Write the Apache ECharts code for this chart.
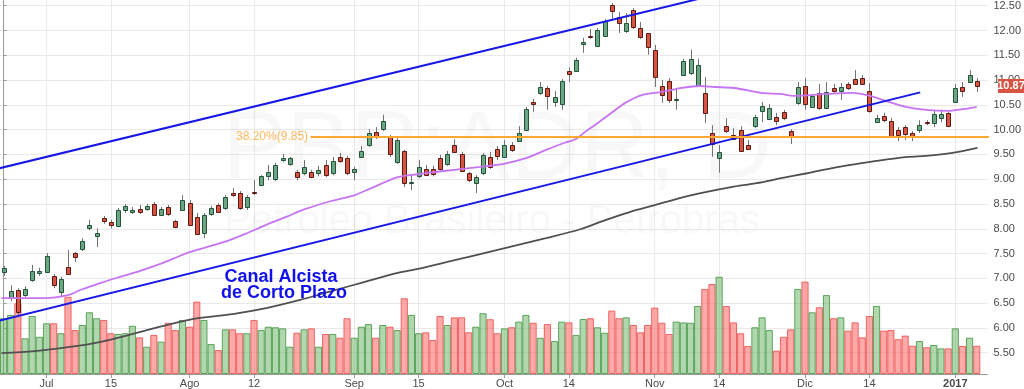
<!DOCTYPE html>
<html>
<head>
<meta charset="utf-8">
<script src="https://cdn.jsdelivr.net/npm/echarts@6.0.0/dist/echarts.min.js"></script>
<style>html,body{margin:0;padding:0;background:#fff}#c{width:1024px;height:389px}</style>
</head>
<body>
<div id="c"></div>
<script>
// ---- categories (trading days) ----
const dates = [
"2016-06-23","2016-06-24","2016-06-27","2016-06-28","2016-06-29","2016-06-30",
"2016-07-01","2016-07-05","2016-07-06","2016-07-07","2016-07-08","2016-07-11","2016-07-12","2016-07-13","2016-07-14","2016-07-15",
"2016-07-18","2016-07-19","2016-07-20","2016-07-21","2016-07-22","2016-07-25","2016-07-26","2016-07-27","2016-07-28","2016-07-29",
"2016-08-01","2016-08-02","2016-08-03","2016-08-04","2016-08-05","2016-08-08","2016-08-09","2016-08-10","2016-08-11","2016-08-12",
"2016-08-15","2016-08-16","2016-08-17","2016-08-18","2016-08-19","2016-08-22","2016-08-23","2016-08-24","2016-08-25","2016-08-26",
"2016-08-29","2016-08-30","2016-08-31",
"2016-09-01","2016-09-02","2016-09-06","2016-09-07","2016-09-08","2016-09-09","2016-09-12","2016-09-13","2016-09-14","2016-09-15","2016-09-16",
"2016-09-19","2016-09-20","2016-09-21","2016-09-22","2016-09-23","2016-09-26","2016-09-27","2016-09-28","2016-09-29","2016-09-30",
"2016-10-03","2016-10-04","2016-10-05","2016-10-06","2016-10-07","2016-10-10","2016-10-11","2016-10-12","2016-10-13","2016-10-14",
"2016-10-17","2016-10-18","2016-10-19","2016-10-20","2016-10-21","2016-10-24","2016-10-25","2016-10-26","2016-10-27","2016-10-28","2016-10-31",
"2016-11-01","2016-11-02","2016-11-03","2016-11-04","2016-11-07","2016-11-08","2016-11-09","2016-11-10","2016-11-11",
"2016-11-14","2016-11-15","2016-11-16","2016-11-17","2016-11-18","2016-11-21","2016-11-22","2016-11-23","2016-11-25",
"2016-11-28","2016-11-29","2016-11-30",
"2016-12-01","2016-12-02","2016-12-05","2016-12-06","2016-12-07","2016-12-08","2016-12-09","2016-12-12","2016-12-13","2016-12-14","2016-12-15","2016-12-16",
"2016-12-19","2016-12-20","2016-12-21","2016-12-22","2016-12-23","2016-12-27","2016-12-28","2016-12-29","2016-12-30",
"2017-01-03","2017-01-04","2017-01-05","2017-01-06"
];
// ---- OHLC ----
const opens = [7.13,6.60,6.76,6.66,6.97,7.11,7.13,7.05,6.72,7.23,7.51,7.59,8.01,7.85,8.22,8.14,8.06,8.38,8.34,8.40,8.40,8.50,8.28,8.44,8.16,8.38,8.52,8.24,7.91,8.30,8.48,8.42,8.72,8.72,8.44,8.74,8.88,9.06,9.00,9.39,9.31,9.15,9.13,9.15,9.13,9.29,9.13,9.45,9.43,9.15,9.45,9.69,9.95,10.01,9.85,9.35,9.57,8.92,9.06,9.21,9.21,9.43,9.31,9.69,9.51,9.13,8.92,9.13,9.45,9.61,9.45,9.69,9.77,9.99,10.56,10.74,10.84,10.56,10.52,11.18,11.18,11.73,11.89,11.69,11.89,12.51,12.27,11.99,12.41,12.05,11.95,11.61,10.88,10.98,10.60,11.10,11.14,10.88,10.74,9.93,9.43,10.07,9.89,9.99,9.69,10.07,10.38,10.21,10.26,10.36,9.97,10.54,10.88,10.46,10.74,10.44,10.84,10.78,10.92,11.02,11.04,10.78,10.15,10.28,10.17,9.99,10.05,9.93,9.99,10.16,10.13,10.23,10.34,10.56,10.86,10.96,10.98];
const highs = [7.25,6.86,6.80,6.84,7.27,7.21,7.51,7.09,7.03,7.57,7.53,7.81,8.18,8.01,8.26,8.18,8.42,8.50,8.44,8.48,8.50,8.54,8.44,8.48,8.18,8.68,8.58,8.32,8.32,8.46,8.52,8.68,8.82,8.76,8.68,8.98,9.08,9.29,9.33,9.51,9.45,9.19,9.39,9.19,9.27,9.39,9.45,9.53,9.47,9.25,9.67,10.01,10.05,10.30,9.89,9.87,9.59,9.08,9.39,9.29,9.27,9.49,9.57,9.81,9.55,9.15,9.08,9.53,9.55,9.67,9.79,9.75,10.07,10.46,10.62,10.96,10.88,10.78,11.02,11.26,11.45,11.85,12.03,12.05,12.23,12.55,12.37,12.35,12.45,12.17,11.95,11.71,11.00,11.04,10.84,11.43,11.61,11.43,11.06,10.09,9.69,10.23,10.03,10.07,9.79,10.30,10.56,10.52,10.34,10.40,10.01,10.96,11.04,10.72,10.92,10.96,10.92,10.94,10.96,11.20,11.10,10.94,10.30,10.34,10.24,10.05,10.09,9.97,10.19,10.19,10.38,10.40,10.36,10.92,10.96,11.20,11.04];
const lows = [7.05,6.54,6.26,6.62,6.93,7.05,7.11,6.80,6.62,7.07,7.33,7.55,7.97,7.63,8.10,8.01,8.03,8.32,8.30,8.30,8.36,8.26,8.26,8.26,8.01,8.36,8.06,7.87,7.81,8.26,8.32,8.38,8.64,8.38,8.38,8.68,8.86,8.98,8.96,9.35,9.27,8.98,9.08,9.02,9.06,9.04,9.08,9.33,9.08,8.98,9.43,9.65,9.81,9.97,9.45,9.31,8.84,8.78,9.02,9.06,9.06,9.17,9.27,9.53,9.15,8.94,8.72,9.08,9.21,9.39,9.43,9.55,9.75,9.97,10.36,10.70,10.40,10.46,10.40,10.96,11.16,11.55,11.83,11.67,11.87,12.21,11.95,11.95,12.03,11.83,11.51,10.86,10.54,10.54,10.40,11.08,11.10,10.86,10.13,9.45,9.13,9.93,9.79,9.55,9.59,10.03,10.15,10.19,10.09,10.19,9.71,10.50,10.40,10.44,10.40,10.42,10.74,10.60,10.80,10.90,10.90,10.34,10.13,10.15,9.83,9.77,9.79,9.77,9.93,10.09,10.05,10.15,10.05,10.56,10.66,10.96,10.76];
const closes = [7.21,6.74,6.32,6.78,7.15,7.15,7.45,6.86,6.99,7.09,7.43,7.75,8.08,7.91,8.16,8.08,8.38,8.46,8.38,8.34,8.46,8.28,8.40,8.30,8.03,8.58,8.08,7.89,8.28,8.42,8.34,8.64,8.68,8.42,8.64,8.72,9.06,9.15,9.29,9.43,9.43,9.04,9.25,9.04,9.19,9.08,9.37,9.37,9.13,9.21,9.57,9.93,9.85,10.17,9.51,9.79,8.92,8.94,9.25,9.08,9.10,9.21,9.51,9.55,9.17,8.98,9.04,9.49,9.25,9.47,9.69,9.59,9.93,10.42,10.52,10.86,10.68,10.66,10.98,11.12,11.41,11.77,11.87,12.01,12.19,12.39,12.15,12.15,12.07,11.87,11.67,11.06,10.70,10.60,10.62,11.38,11.43,11.30,10.34,9.71,9.55,9.97,9.81,9.57,9.61,10.26,10.48,10.44,10.17,10.23,9.85,10.86,10.52,10.68,10.44,10.76,10.78,10.86,10.84,10.92,10.92,10.38,10.23,10.19,9.85,9.89,9.91,9.85,10.09,10.14,10.32,10.32,10.07,10.84,10.78,11.10,10.87];
// ---- volume (millions) ----
const volumes = [29.8,31.6,37.8,19.1,31.0,19.9,27.1,27.1,21.8,41.3,23.5,26.2,33.0,29.8,28.9,21.8,21.4,21.8,25.8,19.6,14.6,20.9,17.3,27.4,23.5,28.9,25.3,38.7,28.9,16.0,12.8,23.9,23.9,21.8,21.8,28.9,23.5,25.3,25.0,24.4,14.6,22.1,23.9,24.4,14.6,21.4,21.4,19.4,29.8,19.4,25.3,26.7,19.4,26.2,25.3,23.5,40.5,31.6,21.8,22.3,18.2,31.0,26.2,30.3,30.3,22.3,25.3,32.5,29.3,21.8,24.4,25.0,28.0,31.6,27.4,19.4,26.7,17.6,28.0,27.6,20.9,29.4,29.8,25.0,22.1,33.9,29.8,30.3,26.2,22.3,26.2,35.5,27.4,21.4,28.0,27.6,27.4,36.4,45.5,48.1,52.0,36.4,27.6,21.8,15.0,25.0,30.3,23.5,12.5,19.9,23.9,45.5,49.4,33.0,35.7,42.2,29.8,30.3,23.2,27.6,19.6,31.0,36.4,23.2,23.5,18.6,20.5,15.1,17.6,14.3,15.5,13.7,13.7,24.4,15.0,19.4,15.1];
// ---- x tick labels ----
const tickDates  = ["2016-07-01","2016-07-15","2016-08-01","2016-08-12","2016-09-01","2016-09-15","2016-10-03","2016-10-14","2016-11-01","2016-11-14","2016-12-01","2016-12-14","2017-01-03"];
const tickLabels = ["Jul","15","Ago","12","Sep","15","Oct","14","Nov","14","Dic","14","2017"];
// ---- moving averages: [bar index, price] ----
const maFast = [[-0.3,6.60],[5.7,6.60],[9.0,6.66],[10.8,6.77],[13.6,6.91],[16.3,7.03],[19.1,7.15],[21.9,7.29],[24.6,7.45],[26.0,7.53],[28.4,7.63],[31.2,7.75],[34.0,7.91],[36.7,8.08],[39.5,8.24],[42.2,8.40],[45.8,8.56],[49.1,8.68],[51.4,8.82],[55.1,9.04],[57.9,9.10],[60.6,9.15],[63.0,9.19],[66.6,9.25],[69.9,9.31],[73.1,9.43],[75.8,9.59],[78.3,9.73],[80.0,9.81],[81.4,9.97],[82.8,10.11],[84.6,10.30],[86.9,10.54],[89.3,10.70],[92.0,10.76],[94.8,10.84],[97.3,10.88],[99.4,10.86],[102.1,10.84],[105.9,10.74],[108.6,10.72],[110.4,10.68],[115.0,10.72],[118.7,10.74],[121.1,10.68],[123.3,10.58],[126.1,10.46],[128.9,10.40],[132.2,10.38],[134.4,10.42],[136.0,10.46]];
const maSlow = [[-0.3,5.49],[4.3,5.53],[9.0,5.61],[13.6,5.72],[18.1,5.88],[22.9,6.06],[27.4,6.20],[32.0,6.28],[36.7,6.40],[41.3,6.56],[45.8,6.74],[50.5,6.93],[55.1,7.11],[57.9,7.19],[62.0,7.33],[68.9,7.57],[75.8,7.81],[80.6,7.99],[84.2,8.18],[87.6,8.34],[91.1,8.48],[94.5,8.62],[98.1,8.74],[101.7,8.84],[105.2,8.92],[108.7,9.02],[112.3,9.12],[116.0,9.23],[119.3,9.31],[122.0,9.37],[126.4,9.45],[128.9,9.47],[132.6,9.53],[136.1,9.63]];
// ---- drawings: [bar index, price] ----
const upperChannel = [[-1,9.206],[100,12.738]];
const lowerChannel = [[-1,6.133],[128.1,10.751]];
const fibStart = 42.9, fibEnd = 140, fibLevel = 9.85, fibText = "38.20%(9.85)";
const annotation = ["Canal Alcista","de Corto Plazo"];
const watermark = ["PBR:ADR, D","Petroleo Brasileiro - Petrobras"];

const FONT = "'Liberation Sans', Arial, sans-serif";
const tickMap = {};
tickDates.forEach((d,i)=>{tickMap[d]=tickLabels[i];});
const cats = dates.concat([""]);
const isTick = (idx, val) => tickMap[val] !== undefined;

const candleData = dates.map((d,i)=>[i, opens[i], closes[i], lows[i], highs[i]]);
const volData = volumes.map((v,i)=>{
  const up = closes[i] >= opens[i];
  return {value: v, itemStyle: {
    color: up ? 'rgba(100,176,96,0.5)' : 'rgba(255,84,84,0.5)',
    borderColor: up ? 'rgba(70,150,70,0.85)' : 'rgba(235,80,80,0.85)',
    borderWidth: 1}};
});

const chart = echarts.init(document.getElementById('c'), null, {renderer:'canvas'});
const option = {
  animation: false,
  backgroundColor: '#ffffff',
  textStyle: {fontFamily: FONT},
  grid: {left: -1.7, right: 29.5, top: 0, bottom: 15, containLabel: false},
  xAxis: [
    {type:'category', data: cats, boundaryGap: true,
     axisLine: {show: true, lineStyle: {color:'#9a9a9a', width: 1}},
     axisTick: {show: true, interval: isTick, alignWithLabel: true, length: 4, lineStyle: {color:'#9a9a9a'}},
     axisLabel: {interval: isTick, color:'#4a4a4a', fontSize: 11, margin: 4, fontFamily: FONT,
       formatter: v => { const t = tickMap[v]; if (t === undefined) return ''; return t === '2017' ? '{b|2017}' : t; },
       rich: {b: {fontWeight:'bold', fontSize: 11, color:'#4a4a4a', fontFamily: FONT}}},
     splitLine: {show: true, interval: isTick, alignWithLabel: true, lineStyle: {color:'#e9e9e9', width: 1}}},
    {type:'value', min: -0.5, max: cats.length - 0.5, show: false, splitLine: {show:false}}
  ],
  yAxis: [
    {type:'value', position:'right', min: 5.070, max: 12.615, splitNumber: 15, scale: true,
     axisLine: {show: true, lineStyle: {color:'#9a9a9a'}},
     axisTick: {show: true, length: 3, lineStyle: {color:'#9a9a9a'}},
     axisLabel: {color:'#4a4a4a', fontSize: 11, margin: 6, fontFamily: FONT, showMinLabel: false, showMaxLabel: false,
       formatter: v => v.toFixed(2)},
     splitLine: {show: true, showMinLine: false, showMaxLine: false, lineStyle: {color:'#e9e9e9', width: 1}}},
    {type:'value', min: 0, max: 200, show: false, splitLine: {show:false}}
  ],
  series: [
    {type:'bar', name:'Volumen', xAxisIndex:0, yAxisIndex:1, data: volData, barCategoryGap:'0%', z: 1, silent: true},
    {type:'custom', name:'PBR', xAxisIndex:0, yAxisIndex:0, data: candleData, z: 3, silent: true,
     encode: {x: 0, y: [1,2,3,4]},
     renderItem: (params, api) => {
       const i = api.value(0), o = api.value(1), c = api.value(2), l = api.value(3), h = api.value(4);
       const pO = api.coord([i, o]), pC = api.coord([i, c]), pL = api.coord([i, l]), pH = api.coord([i, h]);
       const band = api.size([1, 0])[0];
       const bw = Math.max(3, Math.round(band * 0.6));
       const x = Math.round(pO[0]) + 0.5;
       const up = c >= o;
       let top = Math.min(pO[1], pC[1]), bot = Math.max(pO[1], pC[1]);
       if (bot - top < 1) { bot = top + 1; }
       return {type:'group', children: [
         {type:'line', shape:{x1:x, y1:pH[1], x2:x, y2:pL[1]}, style:{stroke:'#737375', lineWidth:1}},
         {type:'rect', shape:{x: x - bw/2, y: Math.round(top)+0.5, width: bw, height: Math.max(1, Math.round(bot - top))},
          style:{fill: up ? '#6ba583' : '#d75442', stroke: up ? '#225437' : '#5b1a13', lineWidth: 1}}
       ]};
     }},
    {type:'line', name:'MA lenta', xAxisIndex:1, yAxisIndex:0, data: maSlow, smooth: 0.3, showSymbol:false, z: 4,
     lineStyle: {color:'#505050', width: 1.8}, silent:true},
    {type:'line', name:'MA rapida', xAxisIndex:1, yAxisIndex:0, data: maFast, smooth: 0.3, showSymbol:false, z: 4,
     lineStyle: {color:'#c774f2', width: 1.8}, silent:true},
    {type:'line', name:'Canal sup', xAxisIndex:1, yAxisIndex:0, data: upperChannel, showSymbol:false, z: 5,
     lineStyle: {color:'#1717e8', width: 2}, silent:true},
    {type:'line', name:'Canal inf', xAxisIndex:1, yAxisIndex:0, data: lowerChannel, showSymbol:false, z: 5,
     lineStyle: {color:'#1717e8', width: 2}, silent:true},
    {type:'line', name:'Fibo', xAxisIndex:1, yAxisIndex:0, showSymbol:false, z: 5, silent:true,
     lineStyle: {color:'#ffa733', width: 2},
     data: [[fibStart, fibLevel], [fibEnd, fibLevel]]},
    {type:'scatter', name:'Fibo label', xAxisIndex:1, yAxisIndex:0, z: 6, silent: true,
     symbol: 'circle', symbolSize: 1, itemStyle: {color: 'rgba(0,0,0,0)'},
     data: [[fibStart, fibLevel]],
     label: {show: true, position: 'left', distance: 2, formatter: fibText,
       color:'#ffa733', fontSize: 12, fontFamily: FONT}}
  ]
};
chart.setOption(option);

const lastClose = closes[closes.length - 1];
const yLast = chart.convertToPixel({yAxisIndex: 0}, lastClose);
chart.setOption({
  graphic: {elements: [
    {type:'text', z: 1, silent: true, style: {text: watermark[0], x: 497, y: 152, textAlign:'center', textVerticalAlign:'middle',
      font: '96px ' + FONT, fill: 'rgba(120,120,120,0.05)'}},
    {type:'text', z: 1, silent: true, style: {text: watermark[1], x: 492, y: 222, textAlign:'center', textVerticalAlign:'middle',
      font: '40px ' + FONT, fill: 'rgba(120,120,120,0.05)'}},
    {type:'text', z: 100, silent: true, style: {text: annotation[0], x: 281, y: 277.5, textAlign:'center', textVerticalAlign:'middle',
      font: 'bold 18px ' + FONT, fill: '#1010ee'}},
    {type:'text', z: 100, silent: true, style: {text: annotation[1], x: 284, y: 293.5, textAlign:'center', textVerticalAlign:'middle',
      font: 'bold 18px ' + FONT, fill: '#1010ee'}},
    {type:'rect', z: 100, silent: true, shape: {x: 998, y: Math.round(yLast) - 7, width: 26, height: 14},
      style: {fill: '#d75442'}},
    {type:'text', z: 101, silent: true, style: {text: lastClose.toFixed(2), x: 1011, y: Math.round(yLast), textAlign:'center', textVerticalAlign:'middle',
      font: 'bold 11px ' + FONT, fill: '#ffffff'}}
  ]}
});
</script>
</body>
</html>
